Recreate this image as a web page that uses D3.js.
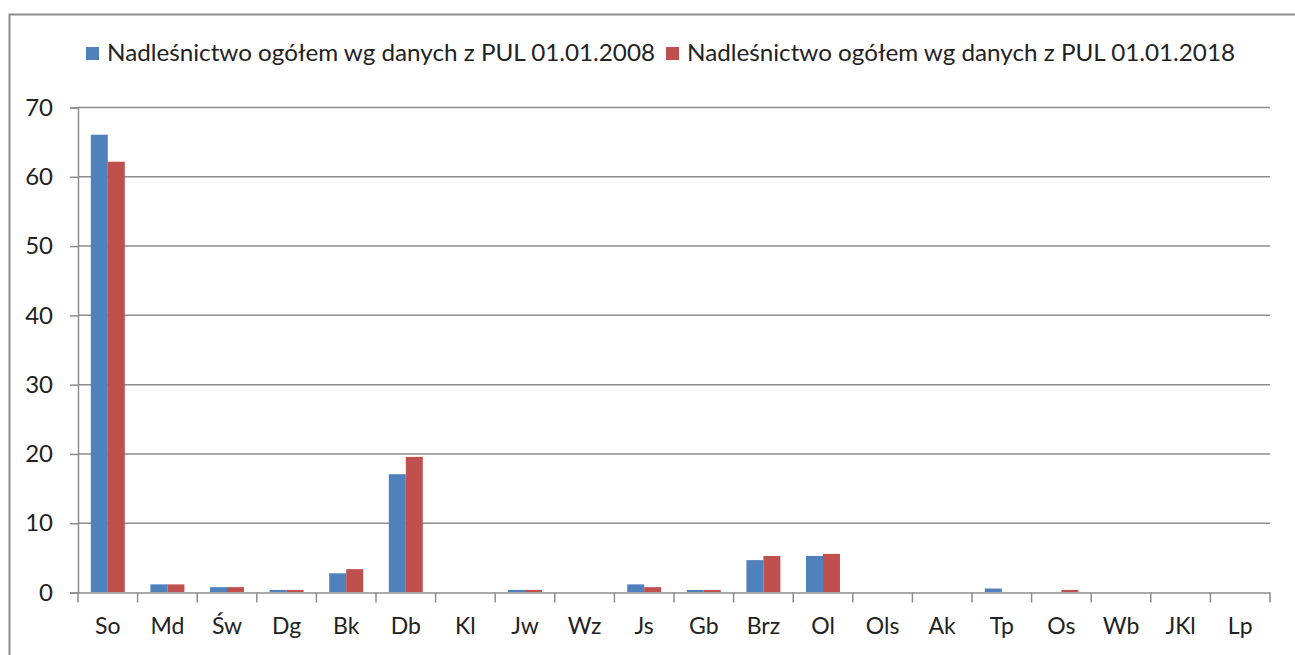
<!DOCTYPE html>
<html><head><meta charset="utf-8">
<script src="https://cdn.jsdelivr.net/npm/d3@7"></script>
<style>body{margin:0;background:#fff;} svg{display:block;font-family:Lato, "Open Sans", sans-serif;}</style>
</head><body><svg id="c" width="1295" height="655"></svg>
<script>
const categories = ["So","Md","Św","Dg","Bk","Db","Kl","Jw","Wz","Js","Gb","Brz","Ol","Ols","Ak","Tp","Os","Wb","JKl","Lp"];
const series2008 = [66.0,1.1,0.7,0.3,2.7,17.0,0,0.3,0,1.1,0.3,4.6,5.2,0,0,0.5,0,0,0,0];
const series2018 = [62.1,1.1,0.7,0.3,3.3,19.5,0,0.3,0,0.7,0.3,5.2,5.5,0,0,0,0.3,0,0,0];
const seriesNames = ["Nadleśnictwo ogółem wg danych z PUL 01.01.2008","Nadleśnictwo ogółem wg danych z PUL 01.01.2018"];
const yTicks = [0,10,20,30,40,50,60,70];
const colors = ["#4f81bd","#c0504d"];

(function(){
const svg = d3.select("#c");
svg.append("rect").attr("x",9.5).attr("y",14.5).attr("width",1400).attr("height",700)
  .attr("fill","#fff").attr("stroke","#8c8c8c").attr("stroke-width",2);

const pL=78, pR=1270, pT=107, pB=592;
const x = d3.scaleBand().domain(categories).range([pL,pR]).paddingInner(0.43).paddingOuter(0.215);
const xs = d3.scaleBand().domain([0,1]).range([0,x.bandwidth()]);
const y = d3.scaleLinear().domain([0,70]).range([pB,pT]);

svg.append("g").selectAll("line").data(yTicks.filter(d=>d>0)).join("line")
  .attr("x1",pL).attr("x2",pR).attr("y1",d=>y(d)+0.5).attr("y2",d=>y(d)+0.5)
  .attr("stroke","#8c8c8c").attr("stroke-width",1.5);

const data = categories.map((c,i)=>({c, v:[series2008[i],series2018[i]]}));
const g = svg.append("g");
g.selectAll("g").data(data).join("g").attr("transform",d=>`translate(${x(d.c)},0)`)
  .selectAll("rect").data(d=>d.v.map((v,k)=>({v,k}))).join("rect")
  .attr("x",d=>xs(d.k)).attr("width",xs.bandwidth())
  .attr("y",d=>y(d.v)).attr("height",d=>y(0)-y(d.v))
  .attr("fill",d=>colors[d.k]);

const yAxis = d3.axisLeft(y).tickValues(yTicks).tickSize(8).tickPadding(17).tickFormat(d3.format("d"));
const ya = svg.append("g").attr("transform",`translate(${pL},0.5)`).call(yAxis);
ya.select(".domain").attr("stroke","#8c8c8c").attr("stroke-width",1.5);
ya.selectAll(".tick line").attr("stroke","#8c8c8c").attr("stroke-width",1.5);
ya.selectAll("text").attr("font-size",24).attr("fill","#222").attr("font-family","Lato, sans-serif");

const xAxis = d3.axisBottom(x).tickSize(0).tickPadding(25);
const xa = svg.append("g").attr("transform",`translate(0,${pB+0.5})`).call(xAxis);
xa.select(".domain").attr("stroke","#8c8c8c").attr("stroke-width",1.5);
xa.selectAll("text").attr("font-size",23).attr("fill","#222").attr("font-family","Lato, sans-serif");
const bounds = d3.range(categories.length+1).map(i=>pL+i*(pR-pL)/categories.length);
xa.append("g").selectAll("line").data(bounds).join("line")
  .attr("x1",d=>d).attr("x2",d=>d).attr("y1",0).attr("y2",10)
  .attr("stroke","#8c8c8c").attr("stroke-width",1.5);

const legX = [86,666];
const lg = svg.append("g").selectAll("g").data(seriesNames).join("g")
  .attr("transform",(d,i)=>`translate(${legX[i]},47)`);
lg.append("rect").attr("width",13).attr("height",13).attr("fill",(d,i)=>colors[i]);
lg.append("text").attr("x",21).attr("y",14).attr("font-size",24).attr("fill","#222")
  .attr("textLength",548).attr("lengthAdjust","spacingAndGlyphs")
  .text(d=>d);
})();
</script></body></html>
